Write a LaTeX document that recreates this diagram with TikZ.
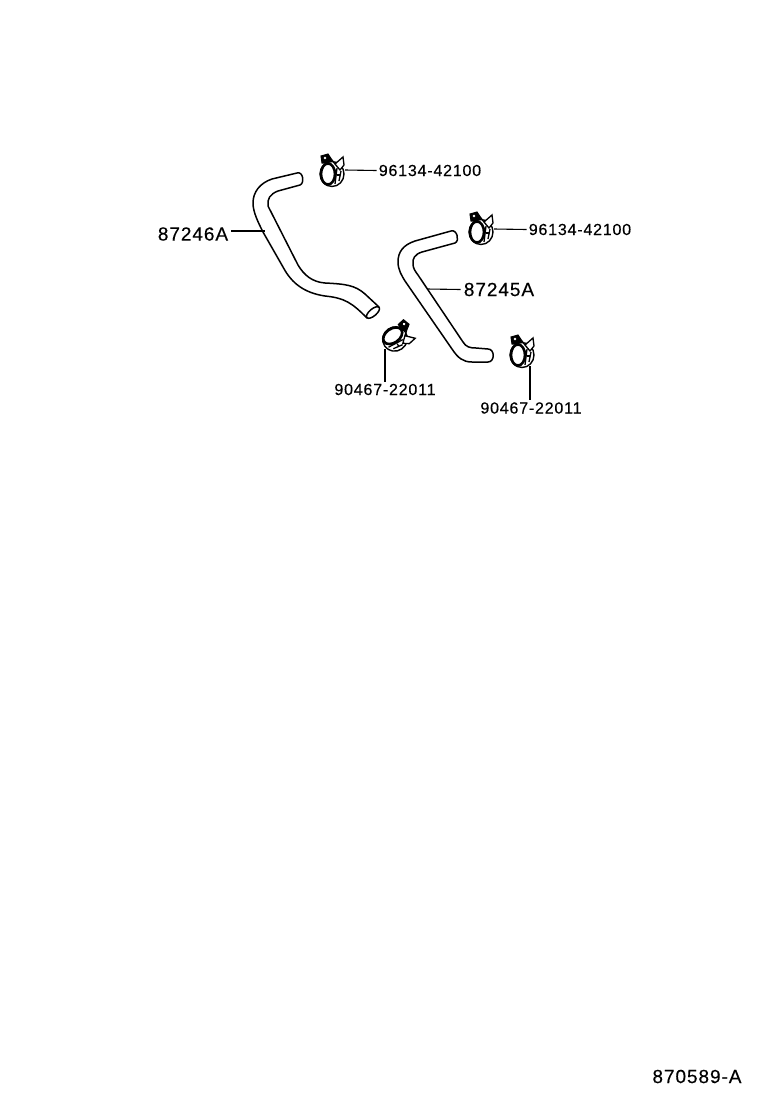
\documentclass[tikz,border=0pt]{standalone}
\usepackage{fontspec}
\newfontfamily\partfont[LetterSpace=5,FakeBold=0.3]{Liberation Sans}
\tikzset{
  partline/.style={line width=1.5pt, line join=round},
  leader/.style={line width=1.1pt},
  smalllabel/.style={inner sep=2pt, font=\partfont\fontsize{16}{16}\selectfont},
  biglabel/.style={inner sep=3pt, font=\partfont\fontsize{19}{19}\selectfont},
  clamp/.pic={
    \draw[line width=1.4pt, fill=white] (0,0) ellipse (12 and 12.5);
    \draw[line width=2.6pt, fill=white] (-4,0) ellipse (7 and 10.5);
    \filldraw[line width=1pt] (-11,-18) -- (-4,-20) -- (0,-14) -- (-5,-11) -- (-10,-11) -- cycle;
    \fill[white] (-7,-16) circle (1.4);
    \draw[line width=1.3pt, fill=white] (0,-14) -- (3,-10) -- (11,-17) -- (12,-9) -- (8,-4) -- (3,-10);
    \draw[line width=1.3pt] (5,-6) -- (3,10);
    \draw[line width=1.3pt] (9,-3) -- (7,7);
    \draw[line width=1.3pt] (5,1) -- (8,1);
  }
}
\begin{document}
\begin{tikzpicture}[x=1pt,y=-1pt]
\useasboundingbox (0,0) rectangle (760,1112);
% hoses
\draw[partline] (367,318) .. controls (352,303) and (345,298) .. (325,296) .. controls (305,293) and (292,284) .. (283,267) -- (263,232) .. controls (258,222) and (253,212) .. (253,203) .. controls (253,192) and (260,183) .. (272,179) -- (297,173) .. controls (303,171) and (305,183) .. (300,185) -- (278,191) .. controls (270,194) and (267,199) .. (268,206) -- (298,265) .. controls (304,275) and (312,282) .. (325,283) .. controls (345,284) and (355,285) .. (365,294) -- (379,307);
\draw[partline, rotate around={40:(373,312.5)}] (373,312.5) ellipse (8 and 3.5);
\draw[partline] (455,243) -- (422,252) .. controls (415,254) and (412,259) .. (413,264) .. controls (413,268) and (415,271) .. (418,275) -- (463,342) .. controls (466,347) and (470,348) .. (476,348) -- (488,349) .. controls (495,349) and (495,362) .. (488,362) -- (472,362) .. controls (463,362) and (458,358) .. (452,349) -- (405,281) .. controls (402,276) and (398,270) .. (398,262) .. controls (398,252) and (403,245) .. (415,241) -- (451,231) .. controls (457,229) and (460,241) .. (455,243);
% clamps
\foreach \a/\b/\r/\n in {332/174/0/clampa, 481/232/0/clampb, 522/355/0/clampd, 395/339/-55/clampc}
  \pic[rotate=\r] (\n) at (\a,\b) {clamp};
% ends of the leaders
\coordinate (hosea) at (265,231);
\coordinate (hoseb) at (427,289);
\coordinate (clampaend) at (345,170);
\coordinate (clampbend) at (494,229);
\coordinate (clampcend) at (385,349);
\coordinate (clampdend) at (530,366);
% labels
\node[biglabel] (lblhosea) at (193,234) {87246A};
\node[biglabel] (lblhoseb) at (499,289.5) {87245A};
\node[smalllabel] (lblclampa) at (430,170.5) {96134-42100};
\node[smalllabel] (lblclampb) at (580,229.5) {96134-42100};
\node[smalllabel] (lblclampc) at (385,389.5) {90467-22011};
\node[smalllabel] (lblclampd) at (531,408) {90467-22011};
\node[biglabel] (lblfig) at (697,1076.5) {870589-A};
\draw[leader] (lblhosea.east |- hosea) -- (hosea);
\draw[leader] (lblhoseb.west) -- (hoseb);
\draw[leader] (clampaend) -- (lblclampa.west);
\draw[leader] (clampbend) -- (lblclampb.west);
\draw[leader] (clampcend) -- (lblclampc.north -| clampcend);
\draw[leader] (clampdend) -- (lblclampd.north -| clampdend);
\end{tikzpicture}
\end{document}
